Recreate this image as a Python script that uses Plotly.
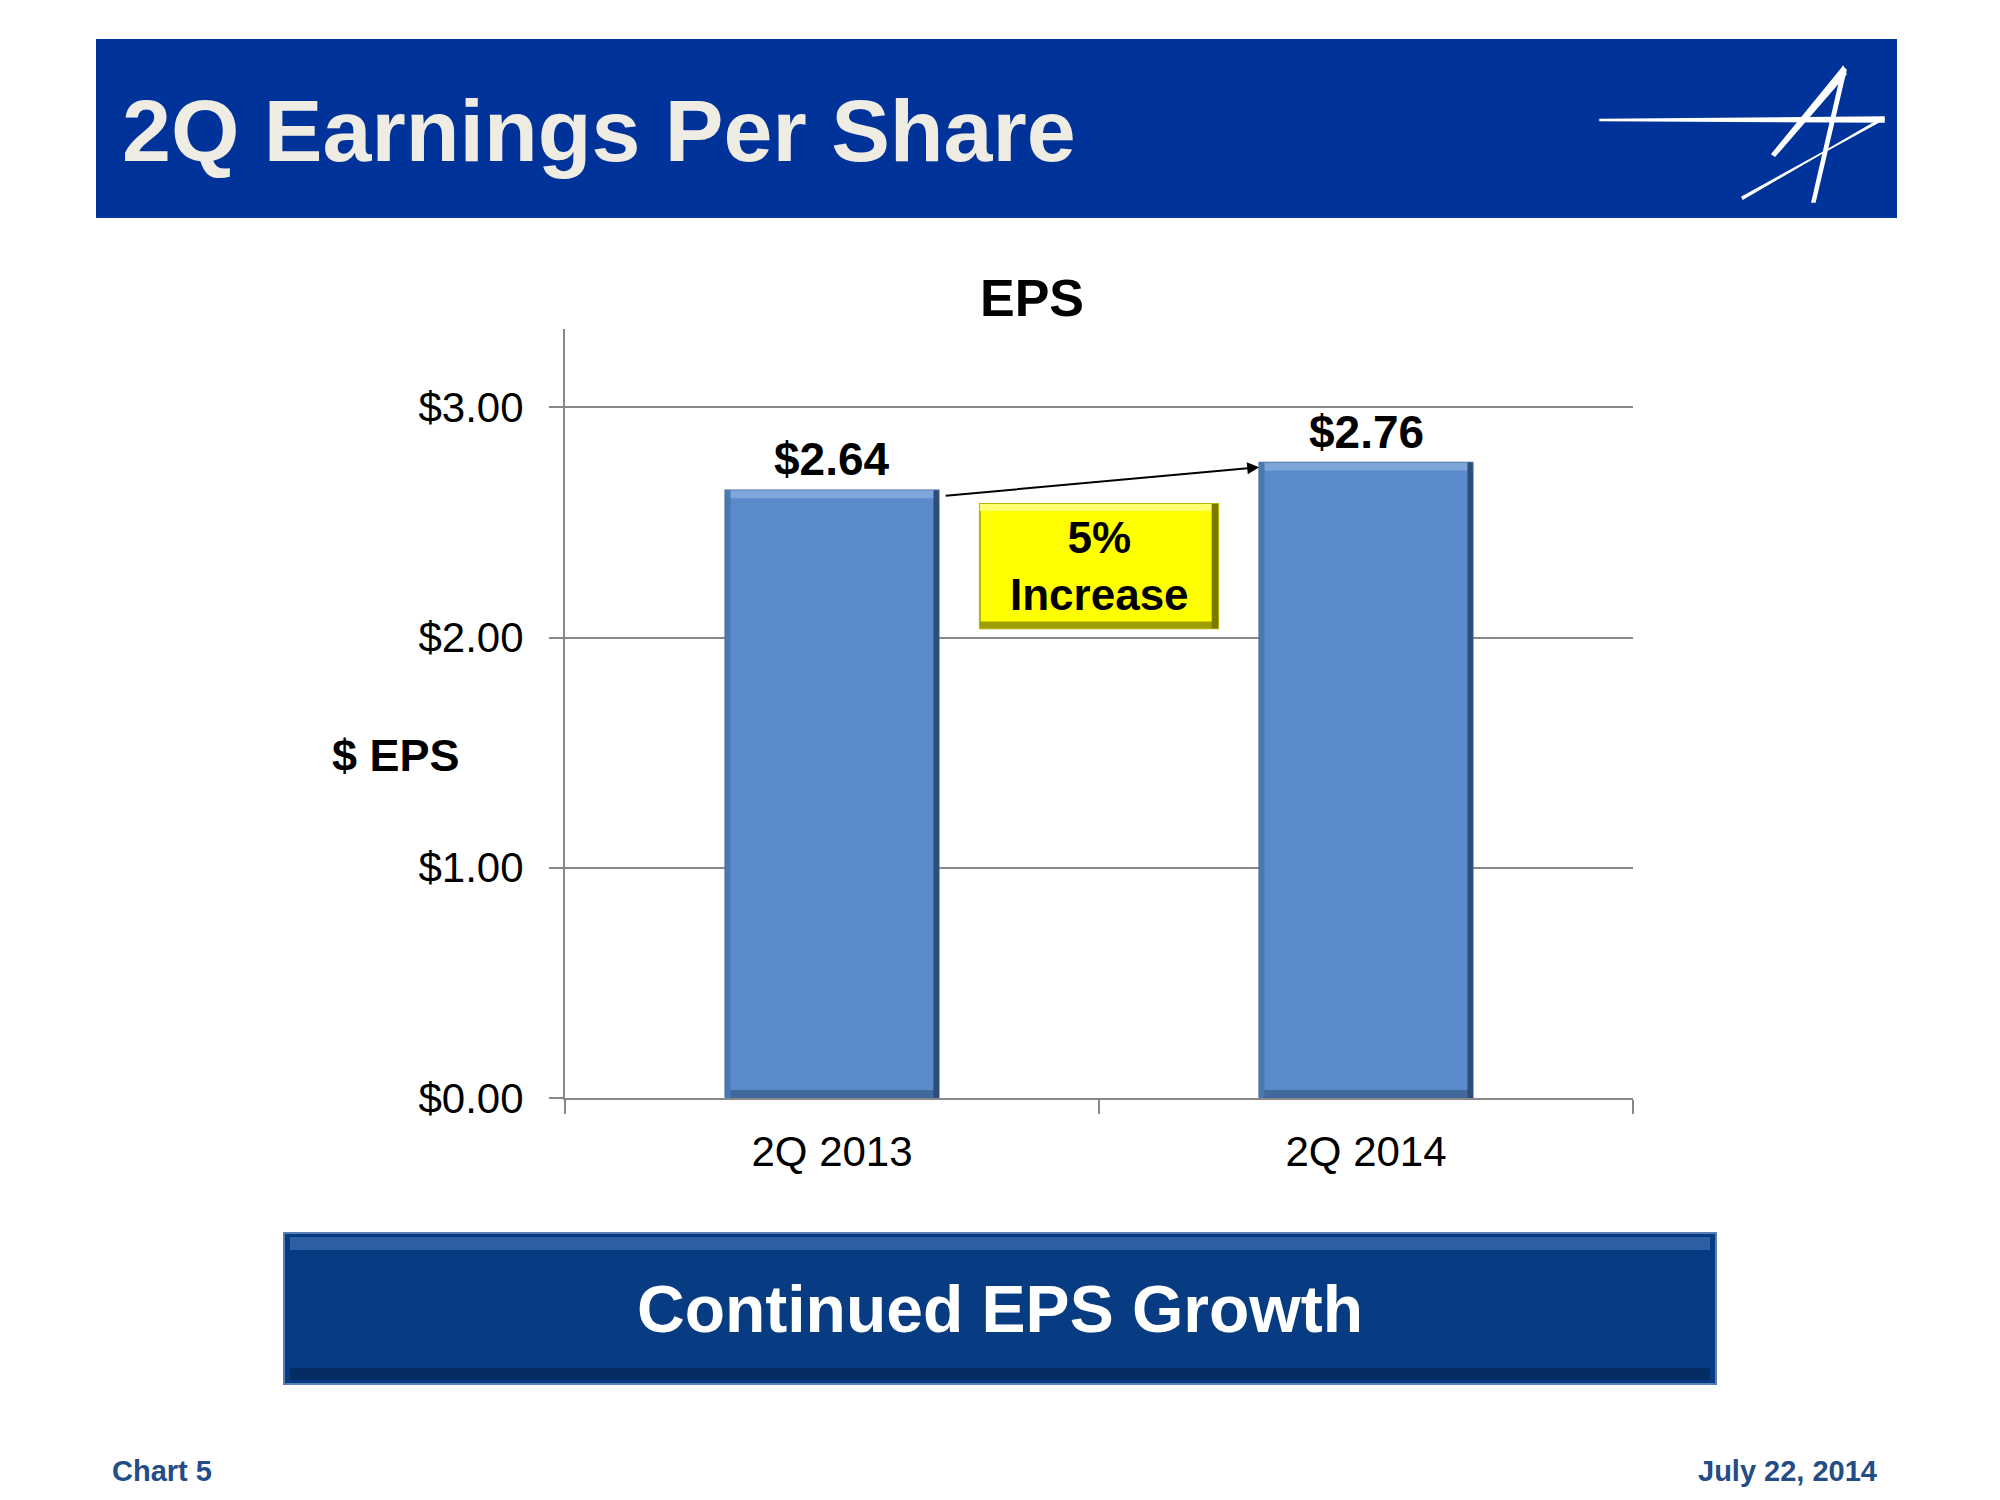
import plotly.graph_objects as go

# ---- data ----
categories = ["2Q 2013", "2Q 2014"]
eps_values = [2.64, 2.76]
y_tick_values = [0, 1, 2, 3]
increase_label = "5%<br>Increase"
chart_title = "EPS"
y_axis_title = "$ EPS"
header_title = "2Q Earnings Per Share"
banner_text = "Continued EPS Growth"
footer_left = "Chart 5"
footer_right = "July 22, 2014"

W, H = 2000, 1500
FONT = "Liberation Sans, Arial, sans-serif"
GRID = "#888888"
BAR_HALF = 0.2


def px(x):
    return x / W


def py(y):
    return (H - y) / H


fig = go.Figure()
fig.add_trace(go.Bar(
    x=categories,
    y=eps_values,
    width=2 * BAR_HALF,
    marker=dict(color="#5A8ACB", line=dict(color="#3B6496", width=1.5)),
    hoverinfo="skip",
    showlegend=False,
))

shapes = []
annotations = []

# header banner
shapes.append(dict(type="rect", xref="paper", yref="paper",
                   x0=px(96), x1=px(1897), y0=py(218), y1=py(39),
                   fillcolor="#003399", line=dict(width=0), layer="below"))
annotations.append(dict(xref="paper", yref="paper", x=px(120), y=py(130),
                        xanchor="left", yanchor="middle", showarrow=False,
                        text=header_title,
                        font=dict(family=FONT, size=88, color="#EFECE3", weight="bold")))

# logo (decorative star-like strokes)
def path_px(points):
    return "M" + " L".join(f"{px(x):.5f},{py(y):.5f}" for x, y in points) + " Z"

logo_polys = [
    [(1600, 119.5), (1884, 117), (1884, 122), (1600, 120.5)],
    [(1884, 119), (1742, 197), (1743, 199), (1872, 124)],
    [(1843, 67), (1772, 154), (1775, 156), (1846, 74)],
    [(1843, 67), (1812, 202), (1815, 202), (1846, 70)],
]
for poly in logo_polys:
    shapes.append(dict(type="path", xref="paper", yref="paper", path=path_px(poly),
                       fillcolor="white", line=dict(color="white", width=1.5)))

# bevel effect on the bars (derived from the bar data)
for i, v in enumerate(eps_values):
    x0, x1 = i - BAR_HALF, i + BAR_HALF
    shapes.append(dict(type="rect", xref="x", yref="y", x0=x0, x1=x1, y0=v - 0.035, y1=v,
                       fillcolor="#7FA6DB", line=dict(width=0)))
    shapes.append(dict(type="rect", xref="x", yref="y", x0=x0, x1=x1, y0=0, y1=0.035,
                       fillcolor="#42699C", line=dict(width=0)))
    shapes.append(dict(type="rect", xref="x", yref="y", x0=x0, x1=x0 + 0.01, y0=0, y1=v,
                       fillcolor="#4A78B2", line=dict(width=0)))
    shapes.append(dict(type="rect", xref="x", yref="y", x0=x1 - 0.01, x1=x1, y0=0, y1=v,
                       fillcolor="#2C4D78", line=dict(width=0)))

# yellow callout box (between the two bars)
mid = (0 + 1) / 2
bx0, bx1, by0, by1 = mid - 0.223, mid + 0.223, 2.04, 2.58
shapes.append(dict(type="rect", xref="x", yref="y", x0=bx0, x1=bx1, y0=by0, y1=by1,
                   fillcolor="#FFFF00", line=dict(color="#B5B500", width=2)))
shapes.append(dict(type="rect", xref="x", yref="y", x0=bx0, x1=bx1, y0=by1 - 0.03, y1=by1,
                   fillcolor="#FFFF70", line=dict(width=0)))
shapes.append(dict(type="rect", xref="x", yref="y", x0=bx0, x1=bx1, y0=by0, y1=by0 + 0.03,
                   fillcolor="#9E9E00", line=dict(width=0)))
shapes.append(dict(type="rect", xref="x", yref="y", x0=bx1 - 0.012, x1=bx1, y0=by0, y1=by1,
                   fillcolor="#7A7A00", line=dict(width=0)))
annotations.append(dict(xref="x", yref="y", x=mid, y=2.31, showarrow=False,
                        xanchor="center", yanchor="middle",
                        text=increase_label, align="center",
                        font=dict(family=FONT, size=44, color="black", weight="bold")))

# arrow between bar tops
annotations.append(dict(xref="x", yref="y", axref="x", ayref="y",
                        x=1 - BAR_HALF, y=eps_values[1] - 0.02,
                        ax=0 + BAR_HALF + 0.01, ay=eps_values[0] - 0.025,
                        showarrow=True, arrowhead=2, arrowsize=1.2, arrowwidth=2,
                        arrowcolor="black", standoff=0, text=""))

# value labels
for i, v in enumerate(eps_values):
    annotations.append(dict(xref="x", yref="y", x=i, y=v, xanchor="center", yanchor="bottom",
                            yshift=3, showarrow=False, text=f"${v:.2f}",
                            font=dict(family=FONT, size=46, color="black", weight="bold")))

# chart title and y-axis title
annotations.append(dict(xref="paper", yref="paper", x=px(1032), y=py(298),
                        xanchor="center", yanchor="middle", showarrow=False, text=chart_title,
                        font=dict(family=FONT, size=52, color="black", weight="bold")))
annotations.append(dict(xref="paper", yref="paper", x=px(396), y=py(755),
                        xanchor="center", yanchor="middle", showarrow=False, text=y_axis_title,
                        font=dict(family=FONT, size=45, color="black", weight="bold")))

# bottom banner
shapes.append(dict(type="rect", xref="paper", yref="paper",
                   x0=px(284), x1=px(1716), y0=py(1384), y1=py(1233),
                   fillcolor="#083C82", line=dict(color="#5A7FB5", width=2), layer="below"))
shapes.append(dict(type="rect", xref="paper", yref="paper",
                   x0=px(290), x1=px(1710), y0=py(1250), y1=py(1237),
                   fillcolor="#3A68AA", line=dict(width=0), opacity=0.8, layer="below"))
shapes.append(dict(type="rect", xref="paper", yref="paper",
                   x0=px(290), x1=px(1710), y0=py(1380), y1=py(1368),
                   fillcolor="#052B60", line=dict(width=0), opacity=0.9, layer="below"))
annotations.append(dict(xref="paper", yref="paper", x=px(1000), y=py(1309),
                        xanchor="center", yanchor="middle", showarrow=False, text=banner_text,
                        font=dict(family=FONT, size=66, color="white", weight="bold")))

# footers
annotations.append(dict(xref="paper", yref="paper", x=px(110), y=py(1471),
                        xanchor="left", yanchor="middle", showarrow=False, text=footer_left,
                        font=dict(family=FONT, size=29, color="#244C86", weight="bold")))
annotations.append(dict(xref="paper", yref="paper", x=px(1879), y=py(1471),
                        xanchor="right", yanchor="middle", showarrow=False, text=footer_right,
                        font=dict(family=FONT, size=29, color="#244C86", weight="bold")))

fig.update_layout(
    width=W, height=H, autosize=False,
    margin=dict(l=0, r=0, t=0, b=0, autoexpand=False),
    paper_bgcolor="white", plot_bgcolor="white",
    shapes=shapes, annotations=annotations,
    xaxis=dict(
        type="category",
        domain=[px(565), px(1633)],
        range=[-0.5, 1.5],
        showline=True, linecolor=GRID, linewidth=2,
        ticks="outside", tickson="boundaries", ticklen=14, tickwidth=2, tickcolor=GRID,
        showgrid=False, zeroline=False, automargin=False,
        tickfont=dict(family=FONT, size=42, color="black"),
        ticklabelstandoff=16,
    ),
    yaxis=dict(
        domain=[py(1098), py(329)],
        range=[0, 3.34],
        tickvals=y_tick_values, tickformat="$.2f",
        showline=True, linecolor=GRID, linewidth=2,
        ticks="outside", ticklen=14, tickwidth=2, tickcolor=GRID,
        showgrid=True, gridcolor=GRID, gridwidth=2, zeroline=False, automargin=False,
        tickfont=dict(family=FONT, size=42, color="black"),
        ticklabelstandoff=17,
    ),
)

fig.write_html("out.html", config={"displayModeBar": False},
               post_script="document.body.style.margin='0';")
